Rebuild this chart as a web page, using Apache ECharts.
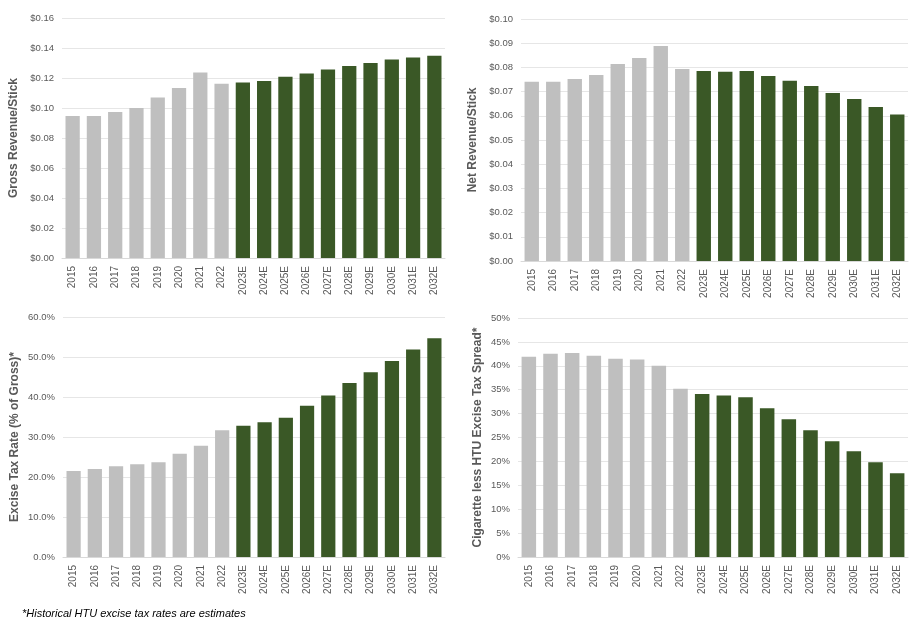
<!DOCTYPE html>
<html>
<head>
<meta charset="utf-8">
<script src="https://cdn.jsdelivr.net/npm/echarts@6/dist/echarts.min.js"></script>
<style>
  body { margin: 0; background: #fff; }
  #chart { width: 918px; height: 640px; }
</style>
</head>
<body>
<div id="chart"></div>
<script>
// 数据
var years = ["2015", "2016", "2017", "2018", "2019", "2020", "2021", "2022",
  "2023E", "2024E", "2025E", "2026E", "2027E", "2028E", "2029E", "2030E", "2031E", "2032E"];
var grossRevenue = [0.0947, 0.0947, 0.0974, 0.1000, 0.1070, 0.1134, 0.1237, 0.1161,
  0.1170, 0.1180, 0.1208, 0.1230, 0.1257, 0.1280, 0.1300, 0.1324, 0.1337, 0.1348];
var netRevenue = [0.0741, 0.0741, 0.0752, 0.0769, 0.0814, 0.0839, 0.0888, 0.0793,
  0.0785, 0.0782, 0.0785, 0.0764, 0.0745, 0.0723, 0.0694, 0.0669, 0.0636, 0.0605];
var exciseRate = [21.5, 22.0, 22.7, 23.2, 23.7, 25.8, 27.8, 31.7,
  32.8, 33.7, 34.8, 37.8, 40.4, 43.5, 46.2, 49.0, 51.9, 54.7];
var taxSpread = [41.9, 42.5, 42.7, 42.1, 41.5, 41.3, 40.0, 35.2,
  34.1, 33.8, 33.4, 31.1, 28.8, 26.5, 24.2, 22.1, 19.8, 17.5];

var grey = "#bfbfbf", green = "#3a5826";
function colored(values) {
  return values.map(function (v, i) {
    return { value: v, itemStyle: { color: years[i].indexOf("E") > 0 ? green : grey } };
  });
}

var grids = [
  { left: 62, right: 473, top: 18, height: 240 },
  { left: 521, right: 10, top: 19, height: 242 },
  { left: 63, right: 473, top: 317, height: 240 },
  { left: 518, right: 10, top: 318, height: 239 }
];
var names = ["Gross Revenue/Stick", "Net Revenue/Stick", "Excise Tax Rate (% of Gross)*", "Cigarette less HTU Excise Tax Spread*"];
var yMax = [0.16, 0.10, 60, 50];
var yStep = [0.02, 0.01, 10, 5];
var fmts = [
  function (v) { return "$" + v.toFixed(2); },
  function (v) { return "$" + v.toFixed(2); },
  function (v) { return v.toFixed(1) + "%"; },
  function (v) { return v.toFixed(0) + "%"; }
];
var seriesData = [grossRevenue, netRevenue, exciseRate, taxSpread];

var option = {
  animation: false,
  textStyle: { fontFamily: "Liberation Sans, Arial, sans-serif" },
  grid: grids,
  xAxis: grids.map(function (g, i) {
    return {
      type: "category", gridIndex: i, data: years,
      axisTick: { show: false },
      axisLine: { lineStyle: { color: "#d9d9d9" } },
      axisLabel: { rotate: 90, color: "#595959", fontSize: 10, margin: 8 }
    };
  }),
  yAxis: grids.map(function (g, i) {
    return {
      type: "value", gridIndex: i, min: 0, max: yMax[i], interval: yStep[i],
      name: names[i], nameLocation: "middle", nameGap: i === 3 ? 34 : 42,
      nameTextStyle: { color: "#595959", fontSize: 12, fontWeight: "bold" },
      axisLabel: { color: "#595959", fontSize: 9.5, formatter: fmts[i] },
      splitLine: { lineStyle: { color: "#e6e6e6" } }
    };
  }),
  series: seriesData.map(function (d, i) {
    return { type: "bar", xAxisIndex: i, yAxisIndex: i, data: colored(d), barCategoryGap: "33%" };
  }),
  graphic: [{
    type: "text", left: 22, top: 608,
    style: { text: "*Historical HTU excise tax rates are estimates", fill: "#000", font: "italic 11px Liberation Sans, Arial, sans-serif" }
  }]
};

var myChart = echarts.init(document.getElementById("chart"));
myChart.setOption(option);
</script>
</body>
</html>
